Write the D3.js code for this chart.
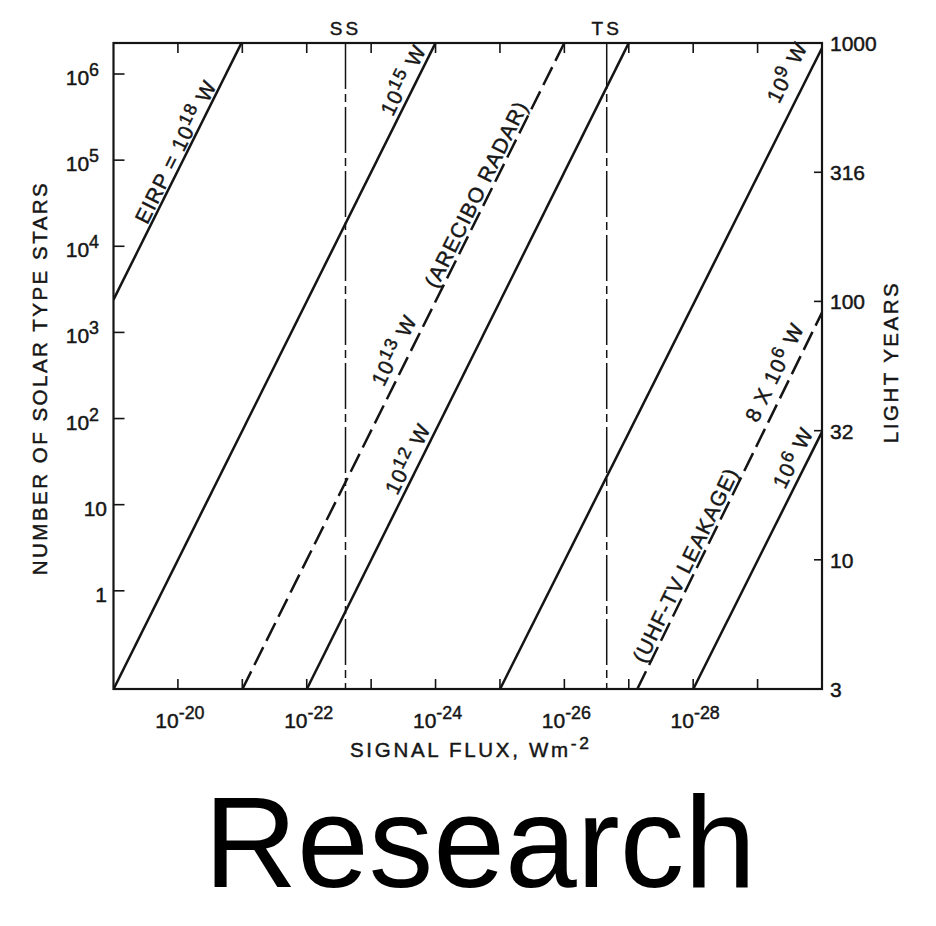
<!DOCTYPE html>
<html>
<head>
  <meta charset="utf-8"/>
  <title>Signal flux vs number of solar type stars</title>
  <script src="https://d3js.org/d3.v7.min.js"></script>
  <style>
    html, body {
      margin: 0;
      padding: 0;
      background: #fff;
      overflow: hidden;
    }
    svg { display: block; }
    text {
      font-family: "Liberation Sans", Arial, sans-serif;
      fill: #161616;
    }
    /* scanned type is a bit heavier than the regular face */
    .ink-text {
      stroke: #161616;
      stroke-width: 0.45px;
    }
  </style>
</head>
<body>
  <div id="chart"></div>
  <script>
    // --- data ---
    // flux ticks, one per decade (W m^-2); labels only on the even ones
    const fluxTicks = [1e-20, 1e-21, 1e-22, 1e-23, 1e-24, 1e-25, 1e-26, 1e-27, 1e-28, 1e-29];
    const fluxLabelTicks = [1e-20, 1e-22, 1e-24, 1e-26, 1e-28];
    const fluxLabels = ["10^{-20}", "10^{-22}", "10^{-24}", "10^{-26}", "10^{-28}"];

    // number of solar type stars (left axis)
    const starTicks = [1e6, 1e5, 1e4, 1e3, 1e2, 10, 1];
    const starLabels = ["10^{6}", "10^{5}", "10^{4}", "10^{3}", "10^{2}", "10", "1"];

    // light years (right axis), half-decade ticks
    const lyTicks = [1000, 316, 100, 31.6, 10, 3.16];
    const lyLabels = ["1000", "316", "100", "32", "10", "3"];

    // EIRP lines: end points as [flux, stars]
    const eirpNames = ["1e18", "1e15", "1e13", "1e12", "1e9", "8e6", "1e6"];
    const eirpDashed = [false, false, true, false, false, true, false];
    const eirpPoints = [
      [[1e-19, 2.4e3], [1e-21, 2.4e6]],
      [[1e-19, 0.072], [1e-24, 2.3e6]],
      [[1e-21, 0.072], [1e-26, 2.3e6]],
      [[1e-22, 0.072], [1e-27, 2.3e6]],
      [[1e-25, 0.072], [1e-30, 2.0e6]],
      [[7.4e-28, 0.072], [1e-30, 1.7e3]],
      [[1e-28, 0.072], [1e-30, 70]]
    ];

    // SS / TS reference fluxes
    const refNames = ["SS", "TS"];
    const refFlux = [2.5e-23, 2.2e-27];

    drawChart();

    function drawChart() {
      const width = 936, height = 926;
      const mLeft = 113.5, mRight = 822, mTop = 43, mBottom = 689;

      const svg = d3.select("#chart").append("svg")
        .attr("width", width)
        .attr("height", height);

      const x = d3.scaleLog().domain([1e-19, 1e-30]).range([mLeft, mRight]);
      const yStars = d3.scaleLog().domain([Math.pow(10, -1.14), Math.pow(10, 6.36)]).range([mBottom, mTop]);
      const yLy = d3.scaleLog().domain([Math.sqrt(10), 1000]).range([mBottom, mTop]);

      // writes "10^{18} W" style strings as tspans with raised superscripts
      function richText(sel, str, rise) {
        const parts = str.split(/\^\{([^}]*)\}/);
        let raised = false;
        parts.forEach((p, i) => {
          if (p === "") return;
          const t = sel.append("tspan").text(p);
          if (i % 2 === 1) {
            t.attr("dy", -rise).attr("font-size", "0.85em");
            raised = true;
          } else if (raised) {
            t.attr("dy", rise);
            raised = false;
          }
        });
      }

      svg.append("defs").append("clipPath").attr("id", "plot")
        .append("rect")
        .attr("x", mLeft).attr("y", mTop)
        .attr("width", mRight - mLeft).attr("height", mBottom - mTop);

      const ink = "#141414";

      // frame
      svg.append("rect")
        .attr("x", mLeft).attr("y", mTop)
        .attr("width", mRight - mLeft).attr("height", mBottom - mTop)
        .attr("fill", "none")
        .attr("stroke", ink)
        .attr("stroke-width", 2.2);

      // bottom + top ticks (inward)
      svg.append("g").selectAll("line").data(fluxTicks).enter().append("line")
        .attr("x1", d => x(d)).attr("x2", d => x(d))
        .attr("y1", mBottom).attr("y2", mBottom - 10)
        .attr("stroke", ink).attr("stroke-width", 1.6);
      svg.append("g").selectAll("line").data(fluxTicks).enter().append("line")
        .attr("x1", d => x(d)).attr("x2", d => x(d))
        .attr("y1", mTop).attr("y2", mTop + 10)
        .attr("stroke", ink).attr("stroke-width", 1.6);

      // left ticks
      svg.append("g").selectAll("line").data(starTicks).enter().append("line")
        .attr("x1", mLeft).attr("x2", mLeft + 11)
        .attr("y1", d => yStars(d)).attr("y2", d => yStars(d))
        .attr("stroke", ink).attr("stroke-width", 1.6);

      // right ticks
      svg.append("g").selectAll("line").data(lyTicks).enter().append("line")
        .attr("x1", mRight).attr("x2", mRight - 8)
        .attr("y1", d => yLy(d)).attr("y2", d => yLy(d))
        .attr("stroke", ink).attr("stroke-width", 1.6);

      // bottom labels
      fluxLabelTicks.forEach((v, i) => {
        const t = svg.append("text")
          .attr("class", "ink-text")
          .attr("x", x(v) + 2).attr("y", 728)
          .attr("text-anchor", "middle")
          .attr("font-size", 21);
        richText(t, fluxLabels[i], 9);
      });

      // left labels
      starTicks.forEach((v, i) => {
        const t = svg.append("text")
          .attr("class", "ink-text")
          .attr("x", v >= 100 ? 99 : 107).attr("y", yStars(v) + 11)
          .attr("text-anchor", "end")
          .attr("font-size", 21);
        richText(t, starLabels[i], 9);
      });

      // right labels
      lyTicks.forEach((v, i) => {
        svg.append("text")
          .attr("class", "ink-text")
          .attr("x", 830).attr("y", yLy(v) + 8)
          .attr("font-size", 21)
          .text(lyLabels[i]);
      });

      // SS / TS verticals
      refFlux.forEach((f, i) => {
        svg.append("line")
          .attr("x1", x(f)).attr("x2", x(f))
          .attr("y1", mTop).attr("y2", mBottom)
          .attr("stroke", ink)
          .attr("stroke-width", 1.5)
          .attr("stroke-dasharray", "46,5,8,5");
        svg.append("text")
          .attr("class", "ink-text")
          .attr("x", x(f)).attr("y", 35)
          .attr("text-anchor", "middle")
          .attr("font-size", 19)
          .attr("letter-spacing", 3)
          .text(refNames[i]);
      });

      // EIRP lines
      const line = d3.line().x(d => x(d[0])).y(d => yStars(d[1]));
      svg.append("g").attr("clip-path", "url(#plot)")
        .selectAll("path").data(eirpPoints).enter().append("path")
        .attr("d", line)
        .attr("fill", "none")
        .attr("stroke", ink)
        .attr("stroke-width", 2.5)
        .attr("stroke-dasharray", (d, i) => eirpDashed[i] ? "20,7" : null);

      // labels set along their lines (flux position, baseline offset from the line)
      const lineLabels = [
        { line: 0, text: "EIRP = 10^{18} W", at: Math.pow(10, -20.11), off: -3 },
        { line: 1, text: "10^{15} W", at: Math.pow(10, -23.67), off: -5 },
        { line: 2, text: "10^{13} W", at: Math.pow(10, -23.57), off: -8 },
        { line: 2, text: "(ARECIBO RADAR)", at: Math.pow(10, -24.79), off: -4 },
        { line: 3, text: "10^{12} W", at: Math.pow(10, -23.74), off: -5 },
        { line: 4, text: "10^{9} W", at: Math.pow(10, -29.74), off: -13 },
        { line: 5, text: "(UHF-TV LEAKAGE)", at: Math.pow(10, -28.04), off: -4 },
        { line: 5, text: "8 X 10^{6} W", at: Math.pow(10, -29.49), off: -9 },
        { line: 6, text: "10^{6} W", at: Math.pow(10, -29.75), off: -7 }
      ];

      lineLabels.forEach(l => {
        const [p1, p2] = eirpPoints[l.line];
        const t = (Math.log10(l.at) - Math.log10(p1[0])) / (Math.log10(p2[0]) - Math.log10(p1[0]));
        const n = Math.pow(10, Math.log10(p1[1]) + t * (Math.log10(p2[1]) - Math.log10(p1[1])));
        const px = x(l.at), py = yStars(n);
        const ang = Math.atan2(yStars(p2[1]) - yStars(p1[1]), x(p2[0]) - x(p1[0])) * 180 / Math.PI;
        const txt = svg.append("text")
          .attr("class", "ink-text")
          .attr("transform", `translate(${px},${py}) rotate(${ang})`)
          .attr("y", l.off)
          .attr("text-anchor", "middle")
          .attr("font-size", 21)
          .attr("letter-spacing", 1.2);
        richText(txt, l.text, 7);
      });

      // axis titles
      const bt = svg.append("text")
        .attr("class", "ink-text")
        .attr("x", 350).attr("y", 757)
        .attr("font-size", 20.5)
        .attr("letter-spacing", 2.7);
      richText(bt, "SIGNAL FLUX, Wm^{-2}", 8);

      svg.append("text")
        .attr("class", "ink-text")
        .attr("transform", "translate(47,378) rotate(-90)")
        .attr("text-anchor", "middle")
        .attr("font-size", 20.5)
        .attr("letter-spacing", 2.5)
        .text("NUMBER OF SOLAR TYPE STARS");

      svg.append("text")
        .attr("class", "ink-text")
        .attr("transform", "translate(898,362) rotate(-90)")
        .attr("text-anchor", "middle")
        .attr("font-size", 20.5)
        .attr("letter-spacing", 2.5)
        .text("LIGHT YEARS");

      // caption
      svg.append("text")
        .attr("x", 480).attr("y", 887)
        .attr("text-anchor", "middle")
        .attr("font-size", 129)
        .style("fill", "#000")
        .text("Research");
    }
  </script>
</body>
</html>
